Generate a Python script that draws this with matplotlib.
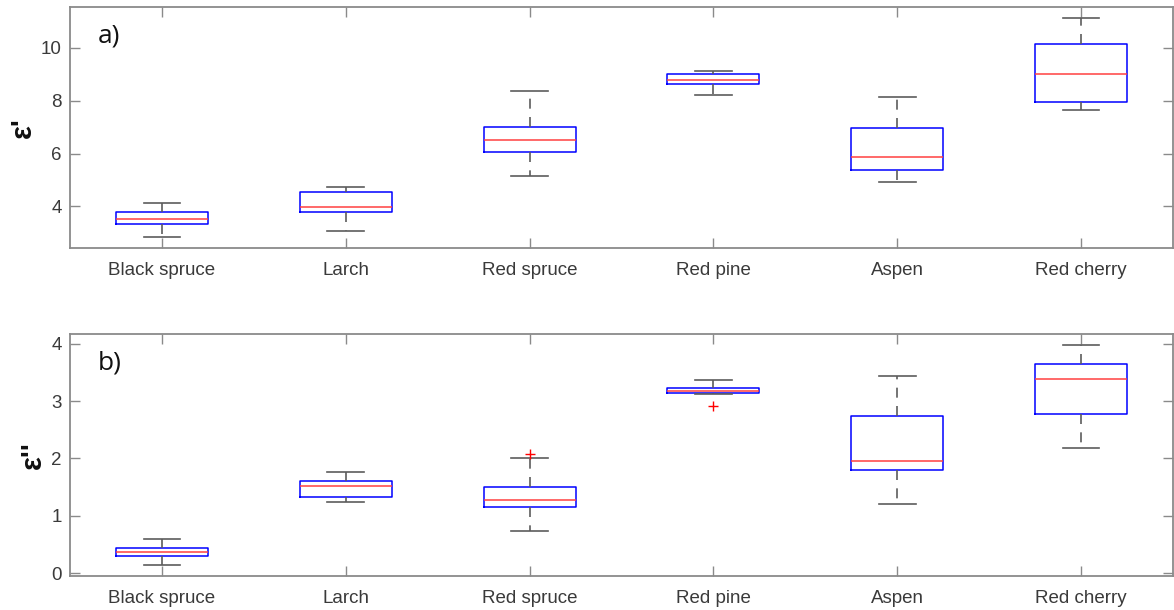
import matplotlib
matplotlib.use("Agg")
import matplotlib.pyplot as plt

plt.rcParams['font.family'] = ['Liberation Sans', 'DejaVu Sans']

species = ["Black spruce", "Larch", "Red spruce", "Red pine", "Aspen", "Red cherry"]

# Real part of permittivity (epsilon')
re_whislo = [2.85, 3.08, 5.13, 8.21, 4.92, 7.64]
re_q1     = [3.34, 3.80, 6.04, 8.65, 5.37, 7.95]
re_med    = [3.53, 3.97, 6.52, 8.80, 5.86, 9.03]
re_q3     = [3.78, 4.54, 7.01, 9.03, 6.96, 10.15]
re_whishi = [4.14, 4.73, 8.35, 9.11, 8.13, 11.13]
re_fliers = [[], [], [], [], [], []]

# Imaginary part of permittivity (epsilon'')
im_whislo = [0.14, 1.24, 0.73, 3.12, 1.21, 2.19]
im_q1     = [0.30, 1.32, 1.16, 3.14, 1.79, 2.78]
im_med    = [0.37, 1.52, 1.28, 3.18, 1.96, 3.39]
im_q3     = [0.44, 1.61, 1.50, 3.23, 2.74, 3.65]
im_whishi = [0.59, 1.76, 2.00, 3.36, 3.44, 3.97]
im_fliers = [[], [], [2.08], [2.91], [], []]

re_ylim = (2.42, 11.55)
re_yticks = [4, 6, 8, 10]
im_ylim = (-0.05, 4.17)
im_yticks = [0, 1, 2, 3, 4]

W, H = 1174, 610
fig = plt.figure(figsize=(W / 100, H / 100), dpi=100)

spine_col = "#8a8a8a"
text_col = "#3a3a3a"
whisk_col = "#5c5c5c"


def make_stats(lo, q1, med, q3, hi, fl):
    return [dict(whislo=a, q1=b, med=c, q3=d, whishi=e, fliers=f, label=n)
            for a, b, c, d, e, f, n in zip(lo, q1, med, q3, hi, fl, species)]


def panel(rect, stats, ylim, yticks, ylabel, tag):
    ax = fig.add_axes(rect)
    ax.bxp(stats, positions=range(1, len(stats) + 1), widths=0.5,
           showfliers=True,
           boxprops=dict(color="#0000ff", linewidth=1.1),
           medianprops=dict(color="#ff4040", linewidth=1.1),
           whiskerprops=dict(color=whisk_col, linewidth=1.2, linestyle=(0, (6, 5))),
           capprops=dict(color=whisk_col, linewidth=1.2),
           capwidths=0.2,
           flierprops=dict(marker="+", markeredgecolor="#ff0000",
                           markersize=7, markeredgewidth=1.0, linestyle="none"))
    ax.set_xlim(0.5, len(stats) + 0.5)
    ax.set_ylim(*ylim)
    ax.set_yticks(yticks)
    ax.set_xticks(range(1, len(stats) + 1))
    ax.set_xticklabels(species)
    ax.tick_params(axis="both", direction="in", length=7, width=1.0,
                   color=spine_col, labelcolor=text_col, labelsize=13.5,
                   top=True, right=True)
    ax.tick_params(axis="x", pad=10)
    ax.tick_params(axis="y", pad=6)
    for s in ax.spines.values():
        s.set_color(spine_col)
        s.set_linewidth(1.3)
    ax.set_ylabel(ylabel, fontsize=21, fontweight="bold", color="#111111", labelpad=3)
    ax.text(0.025, 0.93, tag, transform=ax.transAxes, fontsize=19,
            color="#111111", ha="left", va="top", family=["Open Sans", "DejaVu Sans"])
    return ax


left = 70 / W
width = (1173 - 70) / W
panel([left, 1 - 248 / H, width, (248 - 7) / H],
      make_stats(re_whislo, re_q1, re_med, re_q3, re_whishi, re_fliers),
      re_ylim, re_yticks, "ε'", "a)")
panel([left, 1 - 576 / H, width, (576 - 334) / H],
      make_stats(im_whislo, im_q1, im_med, im_q3, im_whishi, im_fliers),
      im_ylim, im_yticks, "ε''", "b)")

fig.savefig("out.png", dpi=100, facecolor="white")
